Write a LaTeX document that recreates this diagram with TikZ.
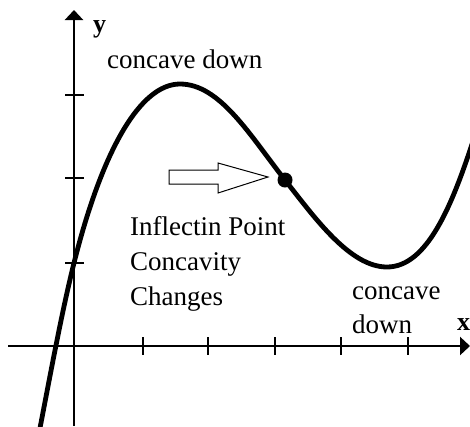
\documentclass[tikz,border=0pt]{standalone}
\usepackage{fontspec}
\setmainfont{Liberation Serif}
\usetikzlibrary{arrows.meta}
\begin{document}
\begin{tikzpicture}[x=1pt,y=-1pt,
  axis/.style={line width=2.6pt,-{Triangle[length=10pt,width=18pt]}},
  tick/.style={line width=1.4pt},
  curve/.style={line width=4.8pt,line join=round},
  lbl/.style={inner sep=0pt,anchor=base west,font=\fontsize{27}{34}\selectfont},
  axlbl/.style={inner sep=0pt,anchor=base west,font=\fontsize{26}{34}\selectfont\bfseries},
  bigarrow/.style={draw,line width=1pt,fill=white,line join=miter}]
\useasboundingbox (0,0) rectangle (470,426);
% axes
\draw[axis] (74,426) -- (74,10);
\draw[axis] (8,346) -- (470,346);
% ticks
\foreach \yy in {95,178,263} \draw[tick] (65,\yy) -- (84,\yy);
\foreach \xx in {143,208,275,341,408} \draw[tick] (\xx,337) -- (\xx,355);
% curve
\draw[curve] (40,428) .. controls (51,371) and (62,311) .. (74,263)
  .. controls (102,151) and (140,84) .. (180,84)
  .. controls (220,84) and (250,135.5) .. (285,180)
  .. controls (315,218.1) and (350,267) .. (387,267)
  .. controls (427,267) and (452,206) .. (474,138);
% inflection point
\node[circle,fill=black,minimum size=15pt,inner sep=0pt] (ip) at (285,180) {};
% hollow arrow
\draw[bigarrow] (169,170) -- (218,170) -- (218,163) -- (268,177) -- (218,193) -- (218,184) -- (169,184) -- cycle;
% labels
\node[axlbl] (ylab) at (93,32) {y};
\node[axlbl] (xlab) at (457,330) {x};
\node[lbl] (cd1) at (107,68) {concave down};
\node[lbl] (inf1) at (130,235) {Inflectin Point};
\node[lbl] (inf2) at (130,270) {Concavity};
\node[lbl] (inf3) at (130,305) {Changes};
\node[lbl] (cd2a) at (352,299) {concave};
\node[lbl] (cd2b) at (352,333) {down};
\end{tikzpicture}
\end{document}
